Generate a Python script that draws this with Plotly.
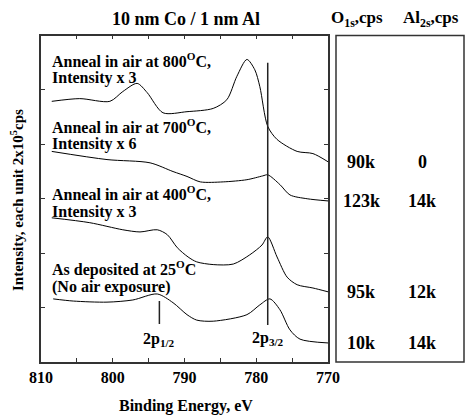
import plotly.graph_objects as go

W, H = 466, 416

# ---- data (binding energy in eV, intensity in units of 2x10^5 cps, offset stacked) ----
ev_800 = [808.5, 804.6, 800.4, 798.6, 796.6, 795.2, 793.0, 789.65, 786.0, 784.1, 782.7, 781.3, 780.2, 779.5, 778.4, 777.1, 774.3, 772.1, 770.0]
int_800 = [4.79, 4.84, 4.79, 4.97, 5.12, 4.95, 4.58, 4.60, 4.66, 4.82, 5.25, 5.56, 5.37, 5.06, 4.33, 4.09, 3.87, 3.83, 3.68]

ev_700 = [808.5, 800.8, 794.8, 791.6, 789.65, 787.8, 784.6, 781.3, 779.1, 778.4, 776.7, 775.3, 772.9, 770.0]
int_700 = [3.87, 3.72, 3.66, 3.50, 3.41, 3.31, 3.31, 3.35, 3.42, 3.44, 3.26, 3.07, 3.00, 2.96]

ev_400 = [808.5, 803.2, 798.6, 796.2, 793.8, 792.4, 791.0, 789.5, 788.3, 786.0, 783.2, 780.9, 779.2, 778.4, 777.1, 775.7, 774.3, 772.1, 770.0]
int_400 = [2.65, 2.56, 2.43, 2.39, 2.43, 2.34, 2.10, 1.93, 1.84, 1.79, 1.80, 1.97, 2.15, 2.30, 1.93, 1.56, 1.42, 1.36, 1.29]

ev_25 = [808.3, 805.5, 800.8, 797.2, 793.8, 791.6, 789.65, 788.3, 786.0, 781.3, 779.5, 778.1, 776.7, 775.3, 773.9, 770.0]
int_25 = [1.16, 1.12, 1.10, 1.14, 1.25, 1.09, 0.87, 0.77, 0.75, 0.87, 1.05, 1.16, 0.96, 0.59, 0.42, 0.35]

curve_labels = [
    ("Anneal in air at 800<sup>O</sup>C,", "Intensity x 3"),
    ("Anneal in air at 700<sup>O</sup>C,", "Intensity x 6"),
    ("Anneal in air at 400<sup>O</sup>C,", "Intensity x 3"),
    ("As deposited at 25<sup>O</sup>C", "(No air exposure)"),
]
o1s_cps = ["90k", "123k", "95k", "10k"]
al2s_cps = ["0", "14k", "12k", "14k"]

peak_p32_ev = 778.4
peak_p12_ev = 793.5

x_tickvals = [810, 805, 800, 795, 790, 785, 780, 775, 770]
x_ticktext = ["<b>810</b>", "", "<b>800</b>", "", "<b>790</b>", "", "<b>780</b>", "", "<b>770</b>"]
y_tickvals = [1, 2, 3, 4, 5]

FONT = "Liberation Serif, Times New Roman, serif"

def px(x):
    return x / W

def py(y):
    return 1 - y / H

fig = go.Figure()
series = [(ev_800, int_800), (ev_700, int_700), (ev_400, int_400), (ev_25, int_25)]
for ex, iy in series:
    fig.add_trace(go.Scatter(x=ex, y=iy, mode="lines",
                             line=dict(color="black", width=1, shape="spline", smoothing=0.8),
                             showlegend=False, hoverinfo="skip"))

fig.update_layout(
    width=W, height=H,
    margin=dict(l=0, r=0, t=0, b=0),
    paper_bgcolor="white", plot_bgcolor="white",
    font=dict(family=FONT, color="black"),
    xaxis=dict(domain=[px(41), px(328)], range=[810, 770], autorange=False,
               tickvals=x_tickvals, ticktext=x_ticktext, ticks="inside", ticklen=4,
               tickwidth=1, tickcolor="#333", showline=True, linecolor="#333", linewidth=1.5,
               mirror="allticks", showgrid=False, zeroline=False,
               tickfont=dict(family=FONT, size=16, color="black"), automargin=False),
    yaxis=dict(domain=[py(362), py(35.5)], range=[0, 6], autorange=False,
               tickvals=y_tickvals, showticklabels=False, ticks="inside", ticklen=4,
               tickwidth=1, tickcolor="#333", showline=True, linecolor="#333", linewidth=1.5,
               mirror="allticks", showgrid=False, zeroline=False, automargin=False),
)

shapes = []
shapes.append(dict(type="line", xref="x", yref="y", x0=peak_p32_ev, x1=peak_p32_ev, y0=0.68, y1=5.50,
                   line=dict(color="#222", width=1.5)))
shapes.append(dict(type="line", xref="x", yref="y", x0=peak_p12_ev, x1=peak_p12_ev, y0=0.70, y1=1.12,
                   line=dict(color="#222", width=1.5)))
shapes.append(dict(type="rect", xref="paper", yref="paper", x0=px(336), x1=px(464), y0=py(362), y1=py(35.5),
                   line=dict(color="#333", width=1.5), fillcolor="rgba(0,0,0,0)"))
fig.update_layout(shapes=shapes)

ann = []

def add_text(text, x, y, size, xref="paper", yref="paper", xanchor="center", angle=0):
    ann.append(dict(text="<b>" + text + "</b>", x=x, y=y, xref=xref, yref=yref,
                    xanchor=xanchor, yanchor="middle", textangle=angle, showarrow=False,
                    font=dict(family=FONT, size=size, color="black")))

add_text("10 nm Co / 1 nm Al", px(186), py(19), 18)
add_text("O<sub>1s</sub>,cps", px(357), py(19), 17)
add_text("Al<sub>2s</sub>,cps", px(431), py(19), 17)
add_text("Binding Energy, eV", px(186), py(406), 16)
add_text("Intensity, each unit 2x10<sup>5</sup>cps", px(17), py(200), 15, angle=-90)

label_lines_y = [(60, 78), (126, 144), (193, 212), (268, 287)]
for (l1, l2), (y1, y2) in zip(curve_labels, label_lines_y):
    add_text(l1, px(50), py(y1), 16, xanchor="left")
    add_text(l2, px(50), py(y2), 16, xanchor="left")

for (ex, iy), o, a in zip(series, o1s_cps, al2s_cps):
    add_text(o, px(361), iy[-1], 18, yref="y")
    add_text(a, px(422), iy[-1], 18, yref="y")

add_text("2p<sub>1/2</sub>", peak_p12_ev, 0.42, 16, xref="x", yref="y")
add_text("2p<sub>3/2</sub>", peak_p32_ev, 0.44, 16, xref="x", yref="y")

fig.update_layout(annotations=ann)
fig.write_html("out.html")
